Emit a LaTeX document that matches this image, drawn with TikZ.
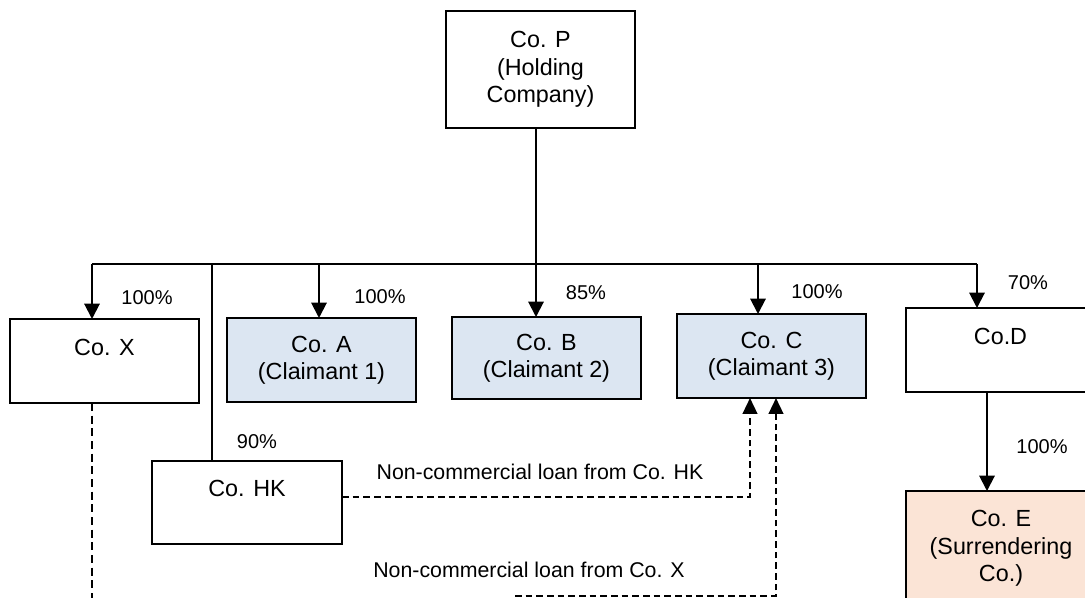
\documentclass[tikz,border=0pt]{standalone}
\usepackage{fontspec}
\setmainfont{Liberation Sans}
\usetikzlibrary{arrows.meta}
\definecolor{claimblue}{RGB}{220,230,242}
\definecolor{surrpeach}{RGB}{251,228,214}
\tikzset{
  box/.style={draw=black, line width=1.4pt, inner sep=0pt, outer sep=0pt,
    minimum width=141.75pt, minimum height=63pt, align=center,
    font=\fontsize{17.5}{20.5}\selectfont},
  pct/.style={inner sep=0pt, font=\fontsize{15}{18}\selectfont},
  loanlbl/.style={inner sep=0pt, font=\fontsize{16}{19}\selectfont},
  conn/.style={line width=1.5pt},
  arr/.style={line width=1.5pt, -{Triangle[width=11.5pt,length=11.5pt]}},
  loan/.style={line width=1.8pt, dash pattern=on 5pt off 3pt, -{Triangle[width=11pt,length=12pt]}},
  thindash/.style={line width=1pt, dash pattern=on 6pt off 3.5pt},
}
\begin{document}
\begin{tikzpicture}[x=0.75pt, y=-0.75pt]
\useasboundingbox (0,0) rectangle (1085,598);
\clip (0,0) rectangle (1085,598);

% boxes
\node[box, minimum height=87.75pt] (P) at (540.5,69.5) {Co. P\\(Holding\\Company)};
\node[box] (X) at (104.5,361) {Co. X\\~};
\node[box, fill=claimblue] (A) at (321.5,360) {Co. A\\(Claimant 1)};
\node[box, fill=claimblue, minimum height=61.5pt] (B) at (546.5,358) {Co. B\\(Claimant 2)};
\node[box, fill=claimblue] (C) at (771.5,356) {Co. C\\(Claimant 3)};
\node[box] (D) at (1000.5,350) {Co.D\\~};
\node[box, minimum width=142.5pt, minimum height=62.25pt] (HK) at (247,502.5) {Co. HK\\~};
\node[box, fill=surrpeach, minimum width=142.5pt, minimum height=86.25pt] (E) at (1001,548.5) {Co. E\\(Surrendering\\Co.)};

% helper coordinates
\coordinate (busL) at (92,264);
\coordinate (busR) at (977,264);
\coordinate (pb) at (536,0);
\coordinate (hkx) at (212,0);
\coordinate (ax) at (319,0);
\coordinate (cx) at (758,0);
\coordinate (de) at (987,0);
\coordinate (hkloan) at (750,497);
\coordinate (xloanS) at (515,596);
\coordinate (xloanC) at (776,596);
\coordinate (xbot) at (92,600);

% ownership bus
\draw[conn] (busL) -- (busR);
\draw[arr] (busL) -- (busL |- X.north);
\draw[arr] (ax |- busL) -- (ax |- A.north);
\draw[arr] (P.south -| pb) -- (B.north -| pb);
\draw[arr] (cx |- busL) -- (cx |- C.north);
\draw[arr] (busR) -- (busR |- D.north);
\draw[line width=1.1pt] (hkx |- busL) -- (hkx |- HK.north);
\draw[arr] (D.south -| de) -- (E.north -| de);

% percentages
\node[pct] (pX) at (147,298) {100\%};
\node[pct] (pA) at (380,297) {100\%};
\node[pct] (pB) at (586,293) {85\%};
\node[pct] (pC) at (817,292) {100\%};
\node[pct] (pD) at (1028,283) {70\%};
\node[pct] (pHK) at (257,442) {90\%};
\node[pct] (pE) at (1042,447) {100\%};

% loans
\draw[loan] (HK.east |- hkloan) -- (hkloan) -- (hkloan |- C.south);
\draw[loan] (xloanS) -- (xloanC) -- (xloanC |- C.south);
\draw[thindash] (busL |- X.south) -- (xbot);
\node[loanlbl] (lHK) at (540,472) {Non-commercial loan from Co. HK};
\node[loanlbl] (lX) at (529,570) {Non-commercial loan from Co. X};
\end{tikzpicture}
\end{document}
